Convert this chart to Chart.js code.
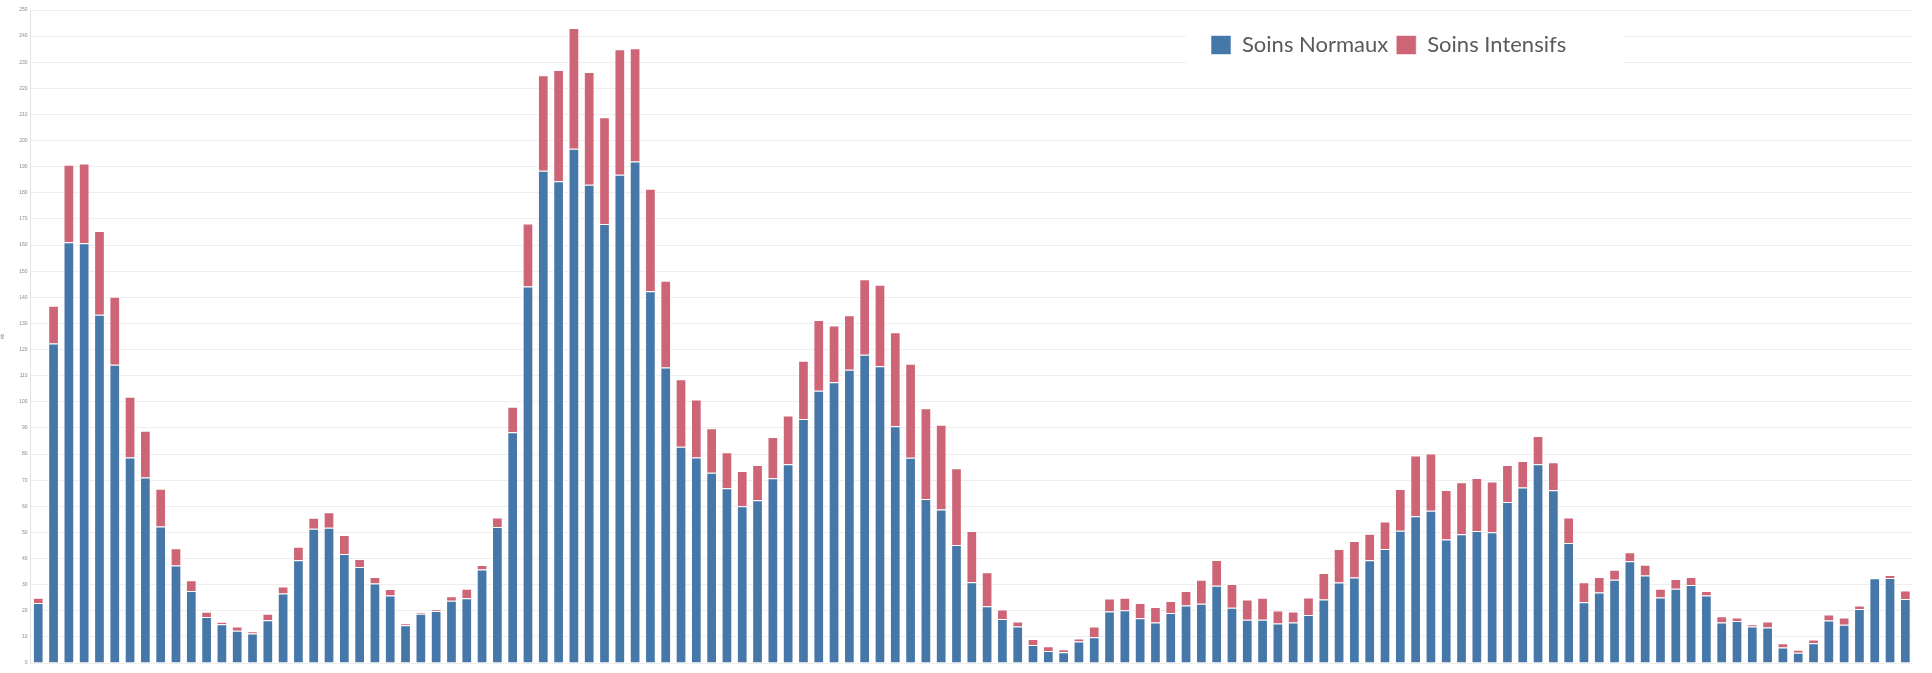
<!DOCTYPE html>
<html>
<head>
<meta charset="utf-8">
<script src="https://cdn.jsdelivr.net/npm/chart.js@4.4.1/dist/chart.umd.min.js"></script>
<style>
  html, body { margin: 0; padding: 0; background: #ffffff; }
  #wrap { width: 1932px; height: 673px; overflow: hidden; }
</style>
</head>
<body>
<div id="wrap"><canvas id="c" width="1932" height="673"></canvas></div>
<script>
const weekLabels = [
  '2020-13','2020-14','2020-15','2020-16','2020-17','2020-18','2020-19','2020-20','2020-21','2020-22',
  '2020-23','2020-24','2020-25','2020-26','2020-27','2020-28','2020-29','2020-30','2020-31','2020-32',
  '2020-33','2020-34','2020-35','2020-36','2020-37','2020-38','2020-39','2020-40','2020-41','2020-42',
  '2020-43','2020-44','2020-45','2020-46','2020-47','2020-48','2020-49','2020-50','2020-51','2020-52',
  '2020-53',
  '2021-1','2021-2','2021-3','2021-4','2021-5','2021-6','2021-7','2021-8','2021-9','2021-10',
  '2021-11','2021-12','2021-13','2021-14','2021-15','2021-16','2021-17','2021-18','2021-19','2021-20',
  '2021-21','2021-22','2021-23','2021-24','2021-25','2021-26','2021-27','2021-28','2021-29','2021-30',
  '2021-31','2021-32','2021-33','2021-34','2021-35','2021-36','2021-37','2021-38','2021-39','2021-40',
  '2021-41','2021-42','2021-43','2021-44','2021-45','2021-46','2021-47','2021-48','2021-49','2021-50',
  '2021-51','2021-52',
  '2022-1','2022-2','2022-3','2022-4','2022-5','2022-6','2022-7','2022-8','2022-9','2022-10',
  '2022-11','2022-12','2022-13','2022-14','2022-15','2022-16','2022-17','2022-18','2022-19','2022-20',
  '2022-21','2022-22','2022-23','2022-24','2022-25','2022-26','2022-27','2022-28','2022-29','2022-30'
];

const soinsNormaux = [
  23.0,122.3,161.1,160.7,133.3,114.2,78.7,71.0,52.3,37.3,
  27.6,17.6,14.8,12.3,11.3,16.4,26.6,39.3,51.4,51.8,
  41.7,36.8,30.4,25.8,14.5,18.9,19.9,23.8,24.8,35.8,
  52.1,88.3,144.1,188.5,184.4,196.9,183.1,168.1,186.9,192.0,
  142.3,113.1,82.8,78.7,72.8,66.9,60.0,62.3,70.7,76.1,
  93.4,104.2,107.5,112.3,118.0,113.6,90.6,78.6,62.8,58.8,
  45.2,30.9,21.7,16.8,14.0,6.9,4.6,4.1,8.2,9.9,
  19.7,20.2,17.1,15.5,19.1,22.0,22.7,29.6,21.2,16.6,
  16.6,15.1,15.5,18.4,24.3,30.8,32.7,39.3,43.6,50.6,
  56.2,58.3,47.3,49.3,50.5,50.1,61.6,67.2,76.1,66.1,
  45.9,23.3,27.0,31.9,39.0,33.5,25.1,28.4,29.9,25.8,
  15.5,16.1,14.0,13.6,5.9,3.9,7.6,16.3,14.6,20.7,
  32.4,32.5,24.5
];

const soinsIntensifs = [
  2.0,14.5,29.7,30.5,32.1,26.0,23.2,17.9,14.4,6.6,
  4.1,2.0,1.0,1.7,0.9,2.5,2.7,5.2,4.2,5.9,
  7.3,3.0,2.5,2.5,0.6,0.5,0.5,1.8,3.6,1.7,
  3.6,9.8,24.2,36.5,42.6,46.2,43.2,40.8,48.1,43.4,
  39.3,33.2,25.8,22.2,17.1,13.8,13.5,13.5,15.8,18.7,
  22.3,27.1,21.7,20.8,28.9,31.2,36.0,36.0,34.7,32.4,
  29.4,19.6,13.0,3.7,1.9,2.3,1.8,1.2,1.2,4.1,
  5.0,4.8,5.9,5.9,4.6,5.6,9.2,9.8,9.0,7.7,
  8.4,5.0,4.2,6.7,10.2,12.8,14.0,10.2,10.6,16.0,
  23.2,21.9,18.9,19.9,20.3,19.4,14.2,10.1,10.8,10.8,
  9.8,7.6,5.9,3.8,3.4,4.1,3.3,3.8,3.0,1.8,
  2.4,1.3,0.8,2.3,1.7,1.2,1.4,2.3,2.8,1.3,
  0.1,1.2,3.3
];

const seriesNames = ['Soins Normaux', 'Soins Intensifs'];
const seriesColors = ['#4578a8', '#ce6576'];
const yTicksMax = 250;
const yTicksStep = 10;

const overlayLegend = {
  id: 'overlayLegend',
  beforeUpdate(chart) {
    if (chart.legend) chart.legend.isHorizontal = () => true;
  },
  afterLayout(chart) {
    const lg = chart.legend;
    if (!lg) return;
    const h = lg.height;
    lg.left = 1203; lg.right = 1760; lg.width = lg.right - lg.left;
    lg.top = 26; lg.bottom = lg.top + h;
  },
  beforeDatasetsDraw(chart) {
    const ctx = chart.ctx;
    ctx.save();
    ctx.fillStyle = '#ffffff';
    ctx.fillRect(1186, 20, 437, 55);
    ctx.restore();
    if (chart.legend) chart.legend.draw();
  }
};

new Chart(document.getElementById('c'), {
  type: 'bar',
  data: {
    labels: weekLabels,
    datasets: [
      { label: seriesNames[0], data: soinsNormaux, backgroundColor: seriesColors[0],
        borderColor: 'rgba(255,255,255,0.55)', borderWidth: 1, borderSkipped: 'start' },
      { label: seriesNames[1], data: soinsIntensifs, backgroundColor: seriesColors[1],
        borderColor: 'rgba(255,255,255,0.55)', borderWidth: 1, borderSkipped: 'start' }
    ]
  },
  options: {
    responsive: false,
    animation: false,
    devicePixelRatio: 1,
    layout: { padding: { top: 10, right: 19, left: 0, bottom: 0 } },
    datasets: { bar: { barPercentage: 0.7, categoryPercentage: 1.0 } },
    plugins: {
      tooltip: { enabled: false },
      legend: {
        position: 'chartArea',
        align: 'start',
        labels: {
          boxWidth: 20, boxHeight: 19, padding: 8,
          color: '#5a5a5a',
          font: { family: 'Lato', size: 22 }
        }
      }
    },
    scales: {
      x: {
        stacked: true,
        grid: { display: false },
        border: { display: false },
        ticks: { autoSkip: false, maxRotation: 35, minRotation: 35, color: '#aaaaaa', font: { size: 5 }, padding: 1 },
        afterFit(s) { s.height = 10; }
      },
      y: {
        stacked: true,
        min: 0, max: yTicksMax,
        ticks: { stepSize: yTicksStep, color: '#8a8a8a', font: { size: 5 }, padding: 3 },
        grid: { color: '#eeeeee', lineWidth: 1, drawTicks: false },
        border: { display: true, color: '#e2e2e2' },
        title: { display: true, text: 'nb', color: '#8a8a8a', font: { size: 5 }, padding: 0 },
        afterFit(s) { s.width = 30.6; }
      }
    }
  },
  plugins: [overlayLegend]
});
</script>
</body>
</html>
